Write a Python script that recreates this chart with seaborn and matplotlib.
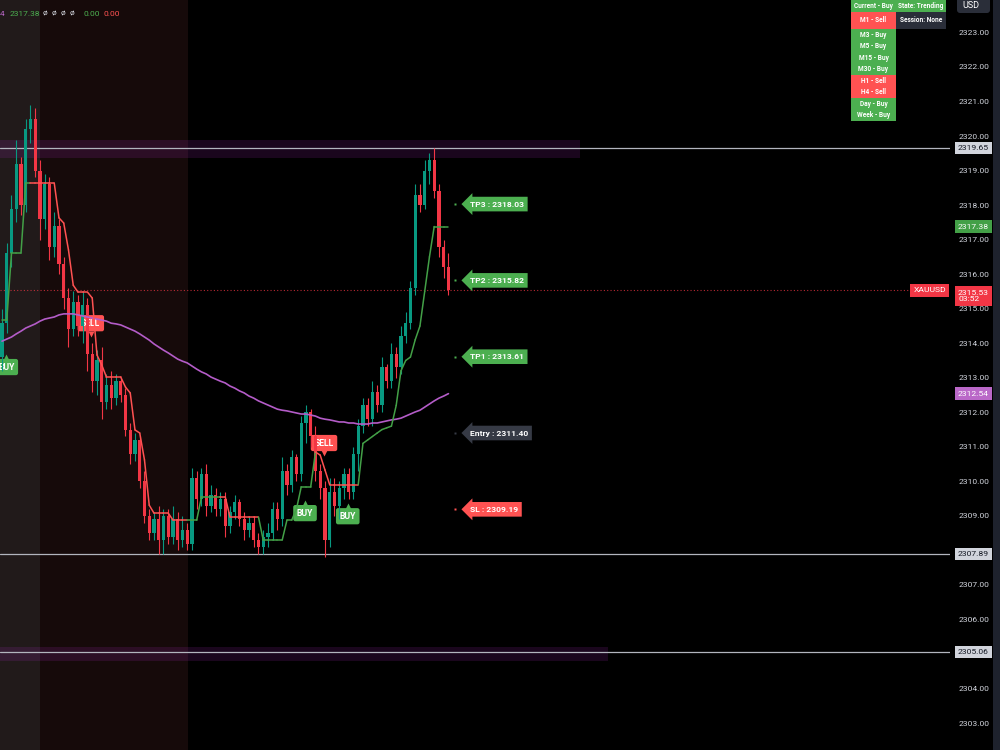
import numpy as np
import pandas as pd
import matplotlib
matplotlib.use("Agg")
import matplotlib.pyplot as plt
from matplotlib.patches import Rectangle, FancyBboxPatch
from matplotlib.transforms import blended_transform_factory
import seaborn as sns

# velas de 1 minuto XAUUSD
opens = [2313.6, 2314.6, 2316.6, 2317.9, 2319.2, 2318.0, 2320.2, 2320.5, 2319.0, 2317.6,
         2318.6, 2316.8, 2317.4, 2316.3, 2315.3, 2314.4, 2315.2, 2314.5, 2315.1, 2313.7,
         2312.9, 2313.5, 2312.3, 2312.8, 2312.4, 2312.9, 2312.5, 2311.5, 2310.8, 2311.2,
         2310.0, 2309.0, 2308.5, 2308.9, 2308.3, 2309.0, 2308.4, 2308.9, 2308.3, 2308.6,
         2308.2, 2310.1, 2309.5, 2310.2, 2309.3, 2309.6, 2309.2, 2309.5, 2308.7, 2309.1,
         2309.4, 2308.9, 2308.6, 2308.8, 2308.3, 2308.1, 2308.4, 2308.5, 2309.2, 2308.9,
         2310.3, 2309.9, 2310.7, 2310.2, 2311.7, 2312.0, 2311.3, 2310.3, 2309.8, 2308.3,
         2309.7, 2309.3, 2309.8, 2310.2, 2309.7, 2310.8, 2311.6, 2312.2, 2311.8, 2312.6,
         2312.2, 2313.3, 2312.9, 2313.7, 2313.3, 2314.2, 2314.6, 2315.6, 2318.3, 2318.0,
         2319.0, 2319.3, 2318.4, 2316.8, 2316.2]
highs = [2315.0, 2316.9, 2318.3, 2319.9, 2319.4, 2320.5, 2320.9, 2320.8, 2319.3, 2318.9,
         2318.8, 2317.8, 2317.6, 2316.5, 2315.6, 2315.5, 2315.4, 2315.5, 2315.3, 2314.0,
         2313.8, 2313.9, 2313.1, 2313.2, 2313.1, 2313.0, 2312.7, 2311.7, 2311.4, 2311.3,
         2310.3, 2309.2, 2309.1, 2309.3, 2309.2, 2309.2, 2309.3, 2309.1, 2309.0, 2308.8,
         2310.4, 2310.3, 2310.4, 2310.5, 2309.9, 2309.8, 2309.7, 2309.7, 2309.3, 2309.6,
         2309.5, 2309.1, 2309.0, 2309.0, 2308.5, 2308.6, 2308.8, 2309.4, 2309.4, 2310.7,
         2310.5, 2310.9, 2310.8, 2311.9, 2312.2, 2312.1, 2311.6, 2310.5, 2310.0, 2310.1,
         2310.1, 2310.0, 2310.4, 2310.4, 2311.0, 2311.8, 2312.4, 2312.4, 2312.9, 2312.8,
         2313.6, 2313.4, 2314.0, 2313.9, 2314.5, 2314.9, 2315.8, 2318.6, 2318.6, 2319.3,
         2319.5, 2319.65, 2318.6, 2317.0, 2316.6]
lows = [2313.2, 2314.3, 2316.2, 2317.5, 2317.7, 2317.8, 2319.8, 2318.8, 2317.0, 2317.3,
        2316.4, 2316.5, 2316.0, 2315.0, 2313.9, 2314.2, 2314.2, 2314.0, 2313.2, 2312.6,
        2312.5, 2311.8, 2312.1, 2312.1, 2312.2, 2312.3, 2311.3, 2310.5, 2310.6, 2309.8,
        2308.8, 2308.3, 2308.3, 2307.9, 2307.9, 2308.2, 2308.2, 2308.0, 2308.1, 2308.0,
        2308.0, 2309.2, 2309.3, 2309.0, 2309.1, 2309.0, 2309.0, 2308.4, 2308.5, 2308.9,
        2308.7, 2308.3, 2308.4, 2308.1, 2307.9, 2307.9, 2308.1, 2308.3, 2308.6, 2308.7,
        2309.6, 2309.7, 2310.0, 2310.0, 2311.1, 2311.0, 2310.0, 2309.5, 2307.8, 2308.1,
        2309.0, 2308.9, 2309.5, 2309.5, 2309.5, 2310.3, 2311.4, 2311.6, 2311.6, 2312.0,
        2312.0, 2312.7, 2312.7, 2313.0, 2313.1, 2314.0, 2314.4, 2315.4, 2317.8, 2317.9,
        2318.6, 2318.2, 2316.5, 2315.9, 2315.4]
closes = [2314.6, 2316.6, 2317.9, 2319.2, 2318.0, 2320.2, 2320.5, 2319.0, 2317.6, 2318.6,
          2316.8, 2317.4, 2316.3, 2315.3, 2314.4, 2315.2, 2314.5, 2315.1, 2313.7, 2312.9,
          2313.5, 2312.3, 2312.8, 2312.4, 2312.9, 2312.5, 2311.5, 2310.8, 2311.2, 2310.0,
          2309.0, 2308.5, 2308.9, 2308.3, 2309.0, 2308.4, 2308.9, 2308.3, 2308.6, 2308.2,
          2310.1, 2309.5, 2310.2, 2309.3, 2309.6, 2309.2, 2309.5, 2308.7, 2309.1, 2309.4,
          2308.9, 2308.6, 2308.8, 2308.3, 2308.1, 2308.4, 2308.5, 2309.2, 2308.9, 2310.3,
          2309.9, 2310.7, 2310.2, 2311.7, 2312.0, 2311.3, 2310.3, 2309.8, 2308.3, 2309.7,
          2309.3, 2309.8, 2310.2, 2309.7, 2310.8, 2311.6, 2312.2, 2311.8, 2312.6, 2312.2,
          2313.3, 2312.9, 2313.7, 2313.3, 2314.2, 2314.6, 2315.6, 2318.3, 2318.0, 2319.0,
          2319.3, 2318.4, 2316.8, 2316.2, 2315.53]

# media movil (morada)
ma_line = [2314.06, 2314.12, 2314.18, 2314.27, 2314.35, 2314.44, 2314.50, 2314.56, 2314.64, 2314.70,
           2314.73, 2314.76, 2314.82, 2314.85, 2314.85, 2314.85, 2314.82, 2314.79, 2314.76, 2314.73,
           2314.70, 2314.67, 2314.64, 2314.58, 2314.56, 2314.53, 2314.47, 2314.41, 2314.35, 2314.27,
           2314.18, 2314.09, 2313.98, 2313.89, 2313.80, 2313.72, 2313.63, 2313.54, 2313.48, 2313.43,
           2313.34, 2313.25, 2313.17, 2313.11, 2313.02, 2312.96, 2312.90, 2312.85, 2312.76, 2312.70,
           2312.62, 2312.56, 2312.47, 2312.41, 2312.33, 2312.27, 2312.21, 2312.15, 2312.09, 2312.06,
           2312.04, 2312.01, 2311.98, 2311.95, 2311.95, 2311.92, 2311.89, 2311.83, 2311.80, 2311.78,
           2311.75, 2311.72, 2311.72, 2311.69, 2311.69, 2311.66, 2311.66, 2311.66, 2311.69, 2311.69,
           2311.72, 2311.75, 2311.78, 2311.80, 2311.83, 2311.89, 2311.95, 2312.01, 2312.06, 2312.15,
           2312.24, 2312.33, 2312.41, 2312.47, 2312.54]

# trailing stop y tendencia (1 = compra, -1 = venta)
trail = [2314.67, 2314.67, 2316.61, 2316.61, 2316.61, 2318.64, 2318.64, 2318.64, 2318.64, 2318.64,
         2318.64, 2318.64, 2317.63, 2317.48, 2316.70, 2315.68, 2315.48, 2315.48, 2315.48, 2315.31,
         2313.66, 2313.37, 2313.02, 2313.02, 2313.02, 2313.02, 2312.73, 2312.56, 2311.49, 2311.40,
         2310.62, 2309.31, 2309.08, 2309.08, 2309.08, 2309.08, 2308.88, 2308.88, 2308.88, 2308.88,
         2308.88, 2308.88, 2309.55, 2309.55, 2309.55, 2309.55, 2309.55, 2309.55, 2308.97, 2308.97,
         2308.97, 2308.97, 2308.97, 2308.97, 2308.97, 2308.30, 2308.30, 2308.30, 2308.30, 2308.30,
         2308.88, 2308.88, 2309.20, 2309.84, 2309.84, 2309.84, 2310.85, 2310.76, 2310.33, 2309.90,
         2309.90, 2309.90, 2309.90, 2309.90, 2309.90, 2309.90, 2311.10, 2311.20, 2311.30, 2311.40,
         2311.50, 2311.55, 2311.60, 2312.20, 2313.20, 2313.50, 2313.60, 2314.10, 2314.50, 2315.50,
         2316.50, 2317.38, 2317.38, 2317.38, 2317.38]
trend = [1] * 7 + [-1] * 33 + [1] * 7 + [-1] * 8 + [1] * 12 + [-1] * 9 + [1] * 19

# senales
signal_x = [0.9, 18.7, 63.8, 67.8, 72.8]
signal_price = [2313.31, 2314.58, 2309.08, 2311.11, 2308.99]
signal_side = ['BUY', 'SELL', 'BUY', 'SELL', 'BUY']

# niveles de la operacion
trade_names = ['TP3', 'TP2', 'TP1', 'Entry', 'SL']
trade_levels = [2318.03, 2315.82, 2313.61, 2311.40, 2309.19]

# zonas y lineas horizontales
zone_low = [2319.36, 2304.80]
zone_high = [2319.88, 2305.19]
zone_end = [121.7, 127.6]
hlines = [2319.65, 2307.89, 2305.06]
last_price = 2315.53
countdown = '03:52'
session_edges = [-1, 7.9, 39.1]

# tabla multi-timeframe
tf_labels = ['Current - Buy', 'M1 - Sell', 'M3 - Buy', 'M5 - Buy', 'M15 - Buy',
             'M30 - Buy', 'H1 - Sell', 'H4 - Sell', 'Day - Buy', 'Week - Buy']
state_labels = ['State: Trending', 'Session: None']

GREEN = '#4caf50'
RED = '#ff5252'
UP = '#089981'
DOWN = '#f23645'

sns.set_style("dark", {"axes.facecolor": "#000000", "figure.facecolor": "#000000"})
plt.rcParams['font.family'] = ['Roboto', 'DejaVu Sans']

df = pd.DataFrame({'bar': np.arange(len(closes)), 'open': opens, 'high': highs,
                   'low': lows, 'close': closes, 'ma': ma_line, 'trail': trail, 'trend': trend})

fig = plt.figure(figsize=(10, 7.5), dpi=100)
fig.patch.set_facecolor('black')
ax = fig.add_axes([0, 0, 0.95, 1])
ax.set_facecolor('black')

# fondos de sesion
ax.axvspan(session_edges[0], session_edges[1], color='#211a1a', lw=0, zorder=0)
ax.axvspan(session_edges[1], session_edges[2], color='#160a0a', lw=0, zorder=0)

# zonas de soporte / resistencia
for lo, hi, end in zip(zone_low, zone_high, zone_end):
    ax.fill_between([-1, end], lo, hi, color='#9c27b0', alpha=0.17, lw=0, zorder=1)
for lvl in hlines:
    ax.axhline(lvl, color='#b2b5be', lw=0.9, zorder=1.5)
ax.axhline(last_price, color=DOWN, lw=0.8, ls=(0, (1, 2)), alpha=0.75, zorder=1.5)

# etiquetas BUY / SELL (debajo de las velas)
for x, p, side in zip(signal_x, signal_price, signal_side):
    c = GREEN if side == 'BUY' else RED
    ax.text(x, p, side, ha='center', va='center', fontsize=6.2, color='white', fontweight='bold',
            bbox=dict(boxstyle='round,pad=0.42,rounding_size=0.25', fc=c, ec='none'), zorder=2)
    if side == 'BUY':
        ax.plot(x, p + 0.3, marker='^', ms=4.5, color=c, mec='none', zorder=2)
    else:
        ax.plot(x, p - 0.3, marker='v', ms=4.5, color=c, mec='none', zorder=2)

# velas
up = df['close'] >= df['open']
cols = np.where(up, UP, DOWN)
ax.vlines(df['bar'], df['low'], df['high'], colors=cols, lw=0.8, zorder=4)
ax.bar(df['bar'], (df['close'] - df['open']).abs().clip(lower=0.04),
       bottom=np.minimum(df['open'], df['close']), width=0.66, color=cols, lw=0, zorder=4)

# media movil
sns.lineplot(data=df, x='bar', y='ma', color='#b45cc8', lw=1.2, ax=ax, zorder=5)

# trailing stop coloreado
for i in range(1, len(df)):
    c = '#43a047' if df['trend'][i] > 0 else RED
    ax.plot([i - 1, i], [df['trail'][i - 1], df['trail'][i]], color=c, lw=1.1, zorder=5)

# niveles TP / Entry / SL
for name, lvl in zip(trade_names, trade_levels):
    c = GREEN if name.startswith('TP') else ('#363a45' if name == 'Entry' else RED)
    ax.plot(95.4, lvl, marker='s', ms=1.8, color=c, mec='none', zorder=6)
    ax.text(98.5, lvl, f'{name} : {lvl:.2f}', ha='left', va='center', fontsize=6.1,
            color='white', fontweight='bold',
            bbox=dict(boxstyle='larrow,pad=0.45', fc=c, ec='none'), zorder=6)

ax.set_xlim(-0.42, 199.6)
ax.set_ylim(2302.22, 2323.94)
ax.set_xlabel('')
ax.set_ylabel('')
ax.set_xticks([])
ax.yaxis.tick_right()
# 2308 y 2305 quedan ocultas tras las etiquetas de las lineas
ticks = [t for t in range(2303, 2324) if t not in (2305, 2308)]
ax.set_yticks(ticks)
ax.set_yticklabels([f'{t:.2f}' for t in ticks])
ax.tick_params(axis='y', length=0, pad=6, labelsize=6.1, labelcolor='#d1d4dc')
ax.grid(False)
for s in ax.spines.values():
    s.set_visible(False)

# etiquetas del eje de precios
tr = blended_transform_factory(ax.transAxes, ax.transData)
box = dict(boxstyle='square,pad=0.38', ec='none')
for lvl in hlines:
    ax.text(1.0085, lvl, f'{lvl:.2f}', transform=tr, ha='left', va='center', fontsize=6.1,
            color='#131722', bbox={**box, 'fc': '#d1d4dc'}, clip_on=False, zorder=10)
ax.text(1.0085, trail[-1], f'{trail[-1]:.2f}', transform=tr, ha='left', va='center', fontsize=6.1,
        color='white', bbox={**box, 'fc': '#43a047'}, clip_on=False, zorder=10)
ax.text(1.0085, ma_line[-1], f'{ma_line[-1]:.2f}', transform=tr, ha='left', va='center',
        fontsize=6.1, color='white', bbox={**box, 'fc': '#ba68c8'}, clip_on=False, zorder=10)
ax.text(1.0085, last_price - 0.16, f'{last_price:.2f}\n{countdown}', transform=tr, ha='left',
        va='center', fontsize=6.1, color='white', linespacing=1.15,
        bbox={**box, 'fc': DOWN}, clip_on=False, zorder=10)
ax.text(0.996, last_price, 'XAUUSD', transform=tr, ha='right', va='center', fontsize=6.1,
        color='white', bbox={**box, 'fc': DOWN}, clip_on=False, zorder=10)

# capa superior en pixeles: tabla, leyenda, boton
ov = fig.add_axes([0, 0, 1, 1])
ov.set_xlim(0, 1000)
ov.set_ylim(750, 0)
ov.axis('off')
ov.patch.set_alpha(0)

ov.add_patch(Rectangle((993, 0), 7, 750, fc='#1e222d', ec='none'))
ov.add_patch(FancyBboxPatch((957, -6), 33, 19, boxstyle='round,pad=0,rounding_size=3',
                            fc='#2a2e39', ec='none'))
ov.text(962, 5, 'USD', fontsize=6.5, color='white', ha='left', va='center')

row_h = [12, 17] + [11.5] * 8
y0 = 0
for k, lab in enumerate(tf_labels):
    c = GREEN if 'Buy' in lab else RED
    ov.add_patch(Rectangle((851, y0), 45, row_h[k], fc=c, ec='none'))
    ov.text(873.5, y0 + row_h[k] / 2, lab, fontsize=4.7, color='white', fontweight='bold',
            ha='center', va='center')
    if k < 2:
        c2 = GREEN if k == 0 else '#2a2e39'
        ov.add_patch(Rectangle((896, y0), 50, row_h[k], fc=c2, ec='none'))
        ov.text(921, y0 + row_h[k] / 2, state_labels[k], fontsize=4.7, color='white',
                fontweight='bold', ha='center', va='center')
    y0 += row_h[k]

# leyenda superior izquierda
ov.text(0, 14, f'{ma_line[-1]:.2f}'[-1], fontsize=6.0, color='#ba68c8', va='center')
ov.text(10, 14, f'{trail[-1]:.2f}', fontsize=6.0, color=GREEN, va='center')
ov.text(43, 14, 'ø  ø  ø  ø', fontsize=6.0, color='#d1d4dc', va='center')
ov.text(83, 14, '0.00', fontsize=6.0, color=GREEN, va='center')
ov.text(104, 14, '0.00', fontsize=6.0, color=RED, va='center')

fig.savefig('out.png', dpi=100, facecolor='black')
